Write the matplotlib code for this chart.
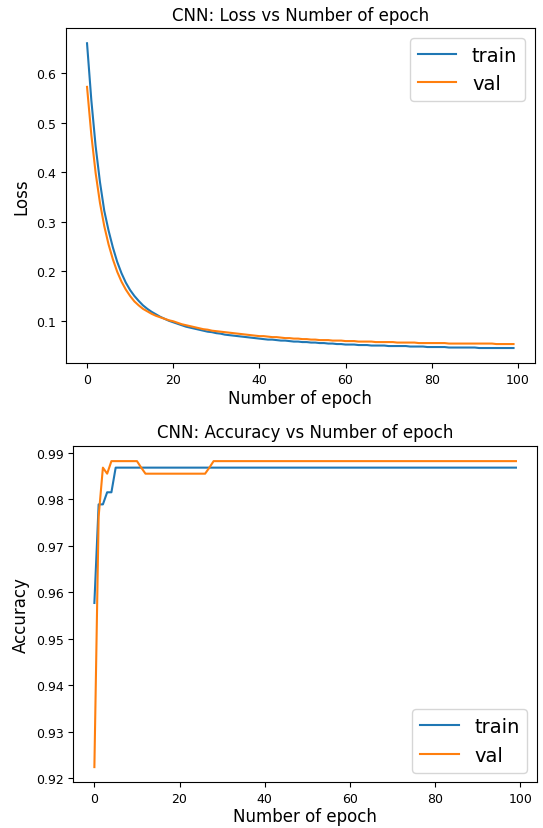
import matplotlib
matplotlib.use("Agg")
import matplotlib.pyplot as plt

epochs = list(range(100))

train_loss = [
    0.660, 0.545, 0.452, 0.380, 0.322, 0.282, 0.248, 0.219, 0.196, 0.177,
    0.162, 0.150, 0.140, 0.131, 0.124, 0.118, 0.113, 0.108, 0.104, 0.100,
    0.097, 0.094, 0.091, 0.088, 0.086, 0.084, 0.082, 0.080, 0.078, 0.077,
    0.075, 0.074, 0.072, 0.071, 0.070, 0.069, 0.068, 0.067, 0.066, 0.065,
    0.064, 0.063, 0.062, 0.062, 0.061, 0.060, 0.060, 0.059, 0.058, 0.058,
    0.057, 0.057, 0.056, 0.056, 0.055, 0.055, 0.054, 0.054, 0.053, 0.053,
    0.052, 0.052, 0.052, 0.051, 0.051, 0.051, 0.050, 0.050, 0.050, 0.050,
    0.049, 0.049, 0.049, 0.049, 0.049, 0.048, 0.048, 0.048, 0.048, 0.047,
    0.047, 0.047, 0.047, 0.047, 0.046, 0.046, 0.046, 0.046, 0.046, 0.046,
    0.046, 0.045, 0.045, 0.045, 0.045, 0.045, 0.045, 0.045, 0.045, 0.045,
]

val_loss = [
    0.572, 0.475, 0.398, 0.338, 0.291, 0.254, 0.224, 0.199, 0.179, 0.163,
    0.150, 0.139, 0.131, 0.124, 0.119, 0.114, 0.110, 0.107, 0.104, 0.101,
    0.099, 0.096, 0.093, 0.091, 0.089, 0.087, 0.085, 0.083, 0.082, 0.080,
    0.079, 0.078, 0.077, 0.076, 0.075, 0.074, 0.073, 0.072, 0.071, 0.070,
    0.069, 0.069, 0.068, 0.067, 0.067, 0.066, 0.065, 0.065, 0.064, 0.064,
    0.063, 0.063, 0.062, 0.062, 0.061, 0.061, 0.061, 0.060, 0.060, 0.060,
    0.059, 0.059, 0.059, 0.058, 0.058, 0.058, 0.058, 0.057, 0.057, 0.057,
    0.057, 0.057, 0.056, 0.056, 0.056, 0.056, 0.056, 0.055, 0.055, 0.055,
    0.055, 0.055, 0.055, 0.055, 0.054, 0.054, 0.054, 0.054, 0.054, 0.054,
    0.054, 0.054, 0.054, 0.054, 0.054, 0.053, 0.053, 0.053, 0.053, 0.053,
]

train_acc = [0.9577, 0.9789, 0.9789, 0.9815, 0.9815] + [0.9868] * 95

val_acc = ([0.9224, 0.9763, 0.9868, 0.9855] + [0.9882] * 7 + [0.9868]
           + [0.9855] * 15 + [0.9868] + [0.9882] * 72)

series_labels = ["train", "val"]
loss_title = "CNN: Loss vs Number of epoch"
acc_title = "CNN: Accuracy vs Number of epoch"
x_label = "Number of epoch"

fig = plt.figure(figsize=(5.43, 8.29), dpi=100)

ax1 = fig.add_axes([0.121, 0.5606, 0.864, 0.4044])
ax1.plot(epochs, train_loss, label=series_labels[0])
ax1.plot(epochs, val_loss, label=series_labels[1])
ax1.set_title(loss_title, fontsize=12)
ax1.set_xlabel(x_label, fontsize=12, labelpad=2)
ax1.set_ylabel("Loss", fontsize=12)
ax1.tick_params(labelsize=9)
ax1.legend(loc="upper right", fontsize=14)

ax2 = fig.add_axes([0.135, 0.055, 0.854, 0.406])
ax2.plot(epochs, train_acc, label=series_labels[0])
ax2.plot(epochs, val_acc, label=series_labels[1])
ax2.set_title(acc_title, fontsize=12)
ax2.set_xlabel(x_label, fontsize=12, labelpad=1)
ax2.set_ylabel("Accuracy", fontsize=12)
ax2.tick_params(labelsize=9)
ax2.legend(loc="lower right", fontsize=14)

fig.savefig("out.png", dpi=100)
